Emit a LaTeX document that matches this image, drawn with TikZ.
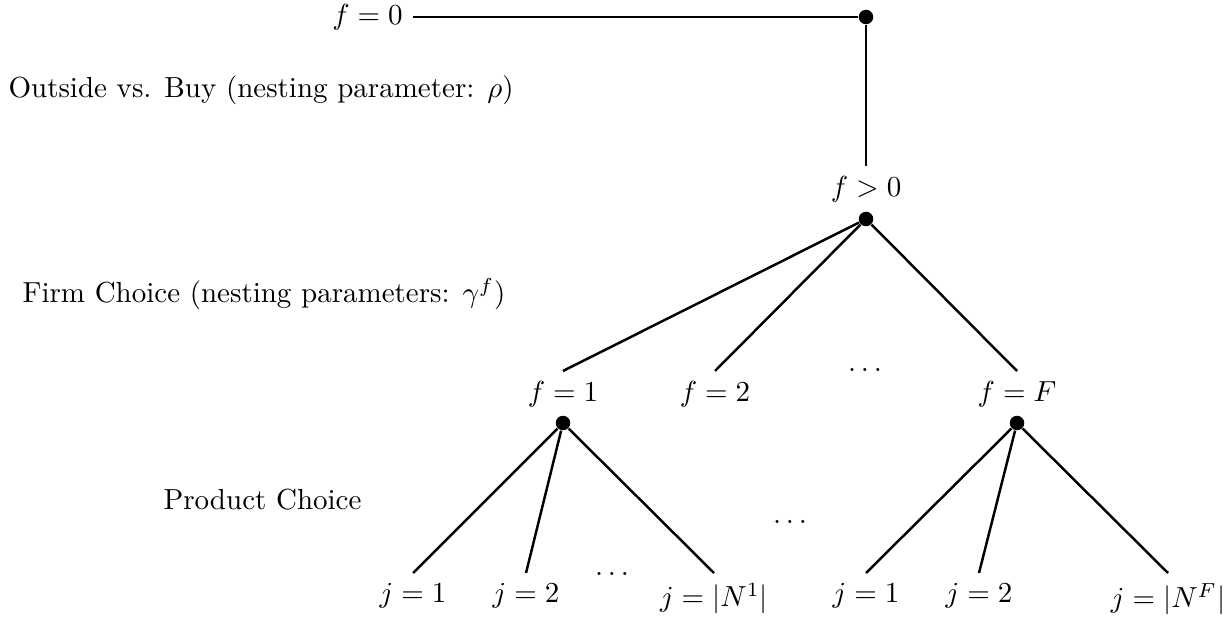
\documentclass[tikz,border=0pt]{standalone}
\tikzset{
  px/.style={x=0.3448pt,y=-0.3448pt},
  dotnode/.style={circle,fill=black,inner sep=0pt,minimum size=5pt},
  lbl/.style={inner sep=3.333pt},
  side/.style={anchor=base west,inner sep=0pt},
  branch/.style={line width=0.85pt},
  dotsnode/.style={inner sep=0pt}
}
\begin{document}
\begin{tikzpicture}[px]
\useasboundingbox (0,0) rectangle (1232,618);
% side labels
\node[side] (l1) at (8,98) {Outside vs. Buy (nesting parameter: $\rho$)};
\node[side] (l2) at (22,303) {Firm Choice (nesting parameters: $\gamma^f$)};
\node[side] (l3) at (163,509) {Product Choice};
% top
\node[dotnode] (top) at (866,17) {};
\node[lbl,anchor=east] (f0) at (413,17) {$f=0$};
\node[lbl,anchor=north] (fpos) at (866,166) {$f>0$};
\node[dotnode] (dpos) at (866,219) {};
% firm level
\node[lbl,anchor=north] (f1) at (563,371) {$f=1$};
\node[lbl,anchor=north] (f2) at (715,371) {$f=2$};
\node[dotsnode] (fdots) at (865,370) {$\ldots$};
\node[lbl,anchor=north] (fF) at (1017,371) {$f=F$};
\node[dotnode] (d1) at (563,423) {};
\node[dotnode] (dF) at (1017,423) {};
% product level
\node[lbl,anchor=north] (j11) at (413,573) {$j=1$};
\node[lbl,anchor=north] (j12) at (526,573) {$j=2$};
\node[dotsnode] (jdots1) at (612,574) {$\ldots$};
\node[lbl,anchor=north] (j1n) at (714,573) {$j=|N^1|$};
\node[dotsnode] (mdots) at (790,522) {$\ldots$};
\node[lbl,anchor=north] (jF1) at (866,573) {$j=1$};
\node[lbl,anchor=north] (jF2) at (979,573) {$j=2$};
\node[lbl,anchor=north] (jFn) at (1168,573) {$j=|N^F|$};
% connectors
\draw[branch] (f0) -- (top);
\draw[branch] (top) -- (fpos.north);
\draw[branch] (dpos) -- (f1.north);
\draw[branch] (dpos) -- (f2.north);
\draw[branch] (dpos) -- (fF.north);
\draw[branch] (d1) -- (j11.north);
\draw[branch] (d1) -- (j12.north);
\draw[branch] (d1) -- (j1n.north);
\draw[branch] (dF) -- (jF1.north);
\draw[branch] (dF) -- (jF2.north);
\draw[branch] (dF) -- (jFn.north);
\end{tikzpicture}
\end{document}
